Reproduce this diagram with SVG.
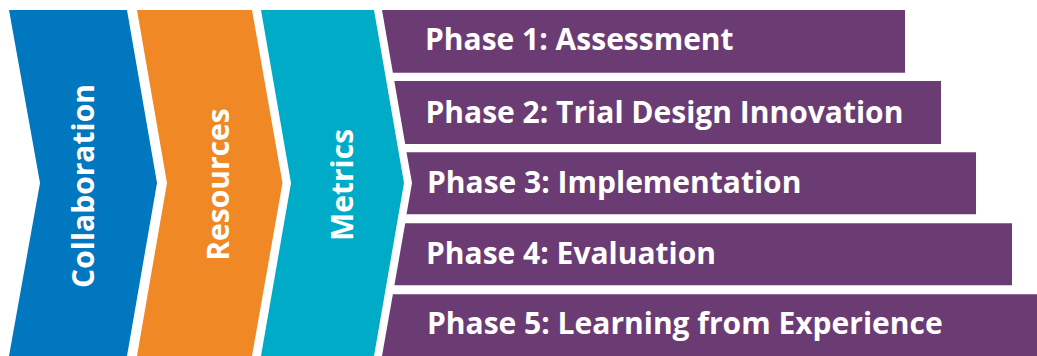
<svg xmlns="http://www.w3.org/2000/svg" width="1037" height="356" viewBox="0 0 1037 356">
  <style>
    .lbl { font-family: "Open Sans", "Liberation Sans", sans-serif; font-weight: bold; font-size: 30px; fill: #ffffff; }
    .vert { text-anchor: middle; }
    .phase { fill: #6b3c73; }
  </style>
  <rect x="0" y="0" width="1037" height="356" fill="#ffffff"/>

  <!-- chevron pillars -->
  <g id="collaboration">
    <polygon points="9,10 127,10 157,183 127,356 9,356 40,183" fill="#0077be"/>
    <text class="lbl vert" transform="translate(94,186) rotate(-90)">Collaboration</text>
  </g>
  <g id="resources">
    <polygon points="137,10 252,10 282.5,183 252,356 137,356 167,183" fill="#f08825"/>
    <text class="lbl vert" transform="translate(228.5,184.5) rotate(-90)">Resources</text>
  </g>
  <g id="metrics">
    <polygon points="261,10 374,10 404,183 374,356 261,356 291,183" fill="#00abc8"/>
    <text class="lbl vert" transform="translate(352.5,185) rotate(-90)">Metrics</text>
  </g>

  <!-- phase bars; left edges follow the slanted line (382,10)-(412,183)-(382,356) -->
  <g id="phase1">
    <polygon class="phase" points="382,10 905,10 905,72.7 392.9,72.7"/>
    <text class="lbl" x="425" y="49.5">Phase 1: Assessment</text>
  </g>
  <g id="phase2">
    <polygon class="phase" points="394.3,81 941,81 941,144 405.2,144"/>
    <text class="lbl" x="425.5" y="123">Phase 2: Trial Design Innovation</text>
  </g>
  <g id="phase3">
    <polygon class="phase" points="406.5,152.3 976,152.3 976,214.3 406.5,214.3 412,183"/>
    <text class="lbl" x="427" y="192.5">Phase 3: Implementation</text>
  </g>
  <g id="phase4">
    <polygon class="phase" points="405.2,223.3 1012,223.3 1012,285.3 394.4,285.3"/>
    <text class="lbl" x="426" y="264">Phase 4: Evaluation</text>
  </g>
  <g id="phase5">
    <polygon class="phase" points="392.9,294.3 1037,294.3 1037,356 382,356"/>
    <text class="lbl" x="427" y="334">Phase 5: Learning from Experience</text>
  </g>

  <g id="connectors"></g>
</svg>
